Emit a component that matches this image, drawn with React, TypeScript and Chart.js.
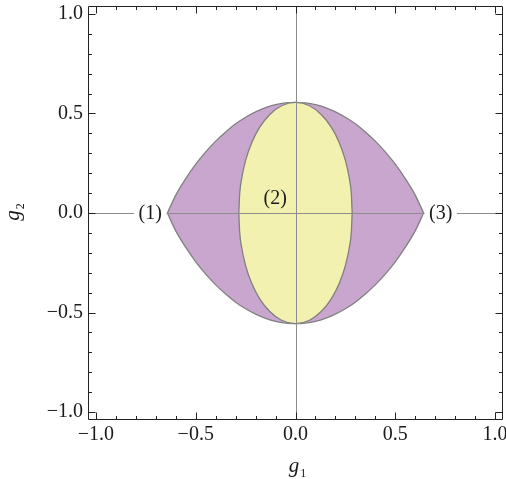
import React, { useEffect, useRef } from 'react';
import { Chart, registerables } from 'chart.js';

Chart.register(...registerables);

// Outer (purple) region boundary
const outerX = [-0.642, -0.6, -0.55, -0.5, -0.45, -0.4, -0.35, -0.3, -0.25, -0.2, -0.15, -0.1, -0.05, 0, 0.05, 0.1, 0.15, 0.2, 0.25, 0.3, 0.35, 0.4, 0.45, 0.5, 0.55, 0.6, 0.642];
const outerUpperY = [0, 0.09, 0.173, 0.245, 0.307, 0.361, 0.407, 0.448, 0.481, 0.508, 0.529, 0.544, 0.553, 0.556, 0.553, 0.544, 0.529, 0.508, 0.481, 0.448, 0.407, 0.361, 0.307, 0.245, 0.173, 0.09, 0];
const outerLowerY = [0, -0.09, -0.173, -0.245, -0.307, -0.361, -0.407, -0.448, -0.481, -0.508, -0.529, -0.544, -0.553, -0.556, -0.553, -0.544, -0.529, -0.508, -0.481, -0.448, -0.407, -0.361, -0.307, -0.245, -0.173, -0.09, 0];

// Inner (yellow) region boundary
const innerX = [-0.284, -0.28, -0.27, -0.25, -0.22, -0.18, -0.13, -0.07, 0, 0.07, 0.13, 0.18, 0.22, 0.25, 0.27, 0.28, 0.284];
const innerUpperY = [0, 0.093, 0.172, 0.264, 0.352, 0.43, 0.494, 0.539, 0.556, 0.539, 0.494, 0.43, 0.352, 0.264, 0.172, 0.093, 0];
const innerLowerY = [0, -0.093, -0.172, -0.264, -0.352, -0.43, -0.494, -0.539, -0.556, -0.539, -0.494, -0.43, -0.352, -0.264, -0.172, -0.093, 0];

// Axes
const axisMin = -1.04;
const axisMax = 1.04;
const majorTicks = [-1, -0.5, 0, 0.5, 1];
const majorTickLabels = ['\u22121.0', '\u22120.5', '0.0', '0.5', '1.0'];
const minorTicks = [-0.9, -0.8, -0.7, -0.6, -0.4, -0.3, -0.2, -0.1, 0.1, 0.2, 0.3, 0.4, 0.6, 0.7, 0.8, 0.9];

// Region labels
const regionLabels = ['(1)', '(2)', '(3)'];
const regionLabelX = [-0.728, -0.102, 0.728];
const regionLabelY = [0, 0.076, 0];
const regionLabelBoxed = [true, false, true];

const PURPLE = 'rgb(201,166,206)';
const YELLOW = 'rgb(243,241,176)';
const EDGE = 'rgb(128,128,128)';
const FRAME = '#222222';
const SERIF = '"Liberation Serif", "Times New Roman", serif';

const pts = (xs: number[], ys: number[]) => xs.map((x, i) => ({ x, y: ys[i] }));

const decorPlugin = {
  id: 'decor',
  afterDatasetsDraw(chart: any) {
    const { ctx, chartArea, scales } = chart;
    const { left, right, top, bottom } = chartArea;
    const xs = scales.x;
    const ys = scales.y;
    ctx.save();
    ctx.beginPath();
    ctx.rect(left, top, right - left, bottom - top);
    ctx.clip();
    // zero lines
    ctx.strokeStyle = 'rgb(140,140,140)';
    ctx.lineWidth = 1;
    const x0 = Math.round(xs.getPixelForValue(0)) + 0.5;
    const y0 = Math.round(ys.getPixelForValue(0)) + 0.5;
    ctx.beginPath();
    ctx.moveTo(x0, top);
    ctx.lineTo(x0, bottom);
    ctx.moveTo(left, y0);
    ctx.lineTo(right, y0);
    ctx.stroke();
    // region labels
    ctx.font = `20px ${SERIF}`;
    ctx.textAlign = 'center';
    ctx.textBaseline = 'middle';
    regionLabels.forEach((t, i) => {
      const px = xs.getPixelForValue(regionLabelX[i]);
      const py = ys.getPixelForValue(regionLabelY[i]);
      const w = ctx.measureText(t).width;
      if (regionLabelBoxed[i]) {
        ctx.fillStyle = '#ffffff';
        ctx.fillRect(px - w / 2 - 4.5, py - 11, w + 9, 22);
      }
      ctx.fillStyle = '#1a1a1a';
      ctx.fillText(t, px, py + 1);
    });
    ctx.restore();
  },
  afterDraw(chart: any) {
    const { ctx, chartArea, scales } = chart;
    const { left, right, top, bottom } = chartArea;
    const xs = scales.x;
    const ys = scales.y;
    ctx.save();
    ctx.strokeStyle = FRAME;
    ctx.lineWidth = 1;
    const L = Math.round(left) + 0.5;
    const R = Math.round(right) - 0.5;
    const T = Math.round(top) + 0.5;
    const B = Math.round(bottom) - 0.5;
    ctx.beginPath();
    ctx.rect(L, T, R - L, B - T);
    const tick = (v: number, len: number) => {
      const px = Math.round(xs.getPixelForValue(v)) + 0.5;
      ctx.moveTo(px, B);
      ctx.lineTo(px, B - len);
      ctx.moveTo(px, T);
      ctx.lineTo(px, T + len);
      const py = Math.round(ys.getPixelForValue(v)) + 0.5;
      ctx.moveTo(L, py);
      ctx.lineTo(L + len, py);
      ctx.moveTo(R, py);
      ctx.lineTo(R - len, py);
    };
    majorTicks.forEach((v) => tick(v, 7));
    minorTicks.forEach((v) => tick(v, 3.5));
    ctx.stroke();

    // axis titles with subscripts
    ctx.fillStyle = '#1a1a1a';
    ctx.textBaseline = 'alphabetic';
    ctx.textAlign = 'left';
    const gFont = `italic 21px ${SERIF}`;
    const subFont = `12px ${SERIF}`;
    const drawTitle = (sub: string, cx: number, baseY: number) => {
      ctx.font = gFont;
      const gw = ctx.measureText('g').width;
      ctx.font = subFont;
      const sw = ctx.measureText(sub).width;
      const total = gw + 1 + sw;
      const sx = cx - total / 2;
      ctx.font = gFont;
      ctx.fillText('g', sx, baseY);
      ctx.font = subFont;
      ctx.fillText(sub, sx + gw + 1, baseY + 5);
    };
    drawTitle('1', 297.5, 472);
    ctx.save();
    ctx.translate(19, 212);
    ctx.rotate(-Math.PI / 2);
    drawTitle('2', 0, 0);
    ctx.restore();
    ctx.restore();
  },
};

export default function App() {
  const canvasRef = useRef<HTMLCanvasElement | null>(null);

  useEffect(() => {
    const canvas = canvasRef.current;
    if (!canvas) return;
    const tickFont = { family: SERIF, size: 20 };
    const lineDs = (label: string, data: any[], fill: string, order: number) => ({
      label,
      data,
      showLine: true,
      fill: 'origin',
      backgroundColor: fill,
      borderColor: EDGE,
      borderWidth: 1.3,
      pointRadius: 0,
      pointHoverRadius: 0,
      cubicInterpolationMode: 'monotone',
      order,
    });
    const chart = new Chart(canvas, {
      type: 'scatter',
      data: {
        datasets: [
          lineDs('inner upper', pts(innerX, innerUpperY), YELLOW, 1),
          lineDs('inner lower', pts(innerX, innerLowerY), YELLOW, 1),
          lineDs('outer upper', pts(outerX, outerUpperY), PURPLE, 2),
          lineDs('outer lower', pts(outerX, outerLowerY), PURPLE, 2),
        ] as any,
      },
      options: {
        animation: false,
        responsive: false,
        maintainAspectRatio: false,
        devicePixelRatio: 1,
        layout: { padding: { top: 6, right: 3, left: 0, bottom: 0 } },
        plugins: {
          legend: { display: false },
          tooltip: { enabled: false },
        },
        scales: {
          x: {
            type: 'linear',
            min: axisMin,
            max: axisMax,
            grid: { display: false, drawTicks: false },
            border: { display: false },
            ticks: {
              font: tickFont,
              color: '#1a1a1a',
              padding: 3,
              maxRotation: 0,
              autoSkip: false,
              callback: (_v: any, i: number) => majorTickLabels[i],
            },
            afterBuildTicks: (s: any) => {
              s.ticks = majorTicks.map((v) => ({ value: v }));
            },
            afterFit: (s: any) => {
              s.height = 59;
              s.paddingLeft = 0;
              s.paddingRight = 0;
            },
          },
          y: {
            type: 'linear',
            min: axisMin,
            max: axisMax,
            grid: { display: false, drawTicks: false },
            border: { display: false },
            ticks: {
              font: tickFont,
              color: '#1a1a1a',
              padding: 5,
              autoSkip: false,
              callback: (_v: any, i: number) => majorTickLabels[i],
            },
            afterBuildTicks: (s: any) => {
              s.ticks = majorTicks.map((v) => ({ value: v }));
            },
            afterFit: (s: any) => {
              s.width = 88;
              s.paddingTop = 0;
              s.paddingBottom = 0;
            },
          },
        },
      } as any,
      plugins: [decorPlugin],
    });
    return () => chart.destroy();
  }, []);

  return (
    <div style={{ position: 'fixed', left: 0, top: 0, width: 506, height: 479, background: '#fff' }}>
      <canvas ref={canvasRef} width={506} height={479} style={{ display: 'block', width: 506, height: 479 }} />
    </div>
  );
}
